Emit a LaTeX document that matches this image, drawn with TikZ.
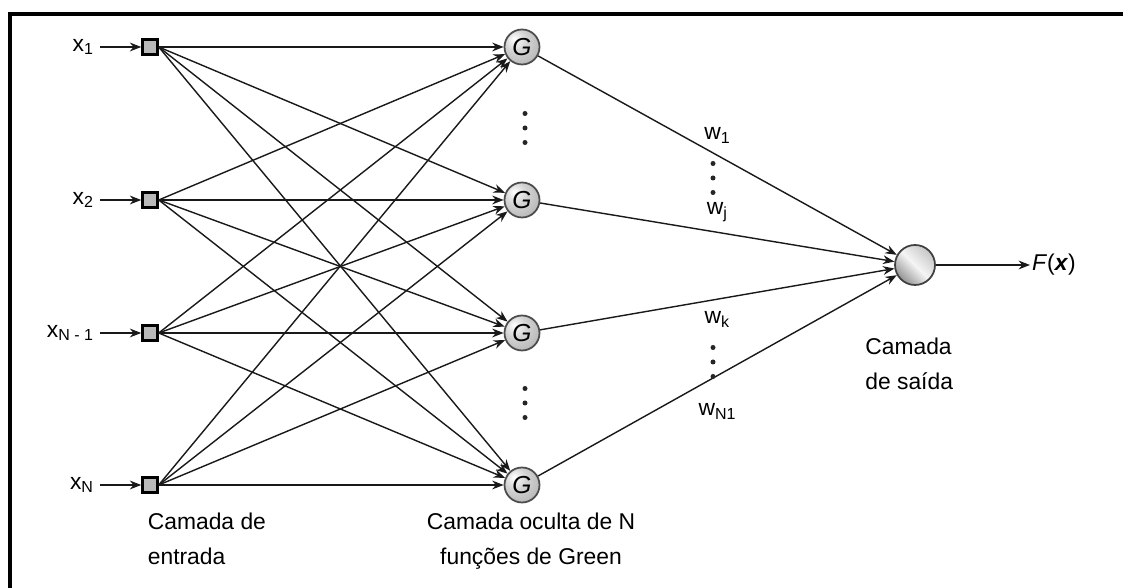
\documentclass[tikz,border=0pt]{standalone}
\usepackage{fontspec}
\setmainfont{Liberation Sans}
\usetikzlibrary{arrows.meta,positioning}

\pgfdeclareradialshading{gball}{\pgfpoint{-12bp}{12bp}}{%
  color(0bp)=(white); color(16bp)=(gray!35); color(40bp)=(gray!65); color(60bp)=(gray!80)}

\tikzset{
  every node/.style={font=\fontsize{13}{19.5}\selectfont},
  link/.style={draw=black!90, line width=0.8pt, -{Stealth[length=6.5pt,width=5pt]}},
  inbox/.style={draw=black, line width=1.4pt, fill=gray!55, minimum size=0.3cm, inner sep=0pt},
  gnode/.style={circle, draw=black!70, line width=1pt, minimum size=0.7cm, inner sep=0pt,
    shading=gball, font=\fontsize{14}{14}\selectfont\itshape},
  outnode/.style={circle, draw=black!75, line width=1pt, minimum size=0.8cm, inner sep=0pt,
    top color=gray!45, bottom color=gray!85, middle color=gray!8, shading angle=-45},
  xlabel/.style={inner xsep=0.12cm, inner ysep=1pt},
  layer/.style={align=left, inner sep=0pt},
}

\begin{document}
\begin{tikzpicture}
\useasboundingbox (0,0) rectangle (22.46,11.76);

% frame
\draw[line width=2.3pt] (0.2,0) -- (0.2,11.48) -- (22.46,11.48);

% input and hidden layers
\foreach \n/\y in {1/10.82,2/7.76,3/5.10,4/2.06}{
  \node[inbox] (i\n) at (3.0,\y) {};
  \node[gnode] (h\n) at (10.44,\y) {G};
}
\node[outnode] (o) at (18.3,6.46) {};

% inputs
\node[xlabel, left=0.82cm of i1] (x1) {x\textsubscript{1}};
\node[xlabel, left=0.82cm of i2] (x2) {x\textsubscript{2}};
\node[xlabel, left=0.82cm of i3] (x3) {x\textsubscript{N - 1}};
\node[xlabel, left=0.82cm of i4] (x4) {x\textsubscript{N}};
\foreach \n in {1,...,4} \draw[link] (x\n) -- (i\n);

% all input-to-hidden connections
\foreach \a in {1,...,4}
  \foreach \b in {1,...,4}
    \draw[link] (i\a.east) -- (h\b);

% hidden-to-output with weights
\draw[link] (h1) -- node[above=3pt]{w\textsubscript{1}} (o);
\draw[link] (h2) -- node[above=2pt]{w\textsubscript{j}} (o);
\draw[link] (h3) -- node[below=3pt]{w\textsubscript{k}} (o);
\draw[link] (h4) -- node[below=12pt]{w\textsubscript{N1}} (o);

% output
\node[anchor=west, inner xsep=1pt] (f) at (20.6,6.46) {\textit{F}(\textbf{\textit{x}})};
\draw[link] (o) -- (f);

% vertical dots
\foreach \cx/\cy in {10.5/9.20, 10.5/3.70, 14.26/8.2, 14.26/4.52}
  \foreach \d in {-0.29,0,0.29}
    \fill[black!85] (\cx,\cy+\d) circle (0.05);

% layer captions
\node[layer, anchor=north west] (cin) at (2.95,1.5) {Camada de\\entrada};
\node[layer, align=center, anchor=north] (chid) at (10.62,1.5) {Camada oculta de N\\funções de Green};
\node[layer, anchor=north west] (cout) at (17.3,5.0) {Camada\\de saída};
\end{tikzpicture}
\end{document}
